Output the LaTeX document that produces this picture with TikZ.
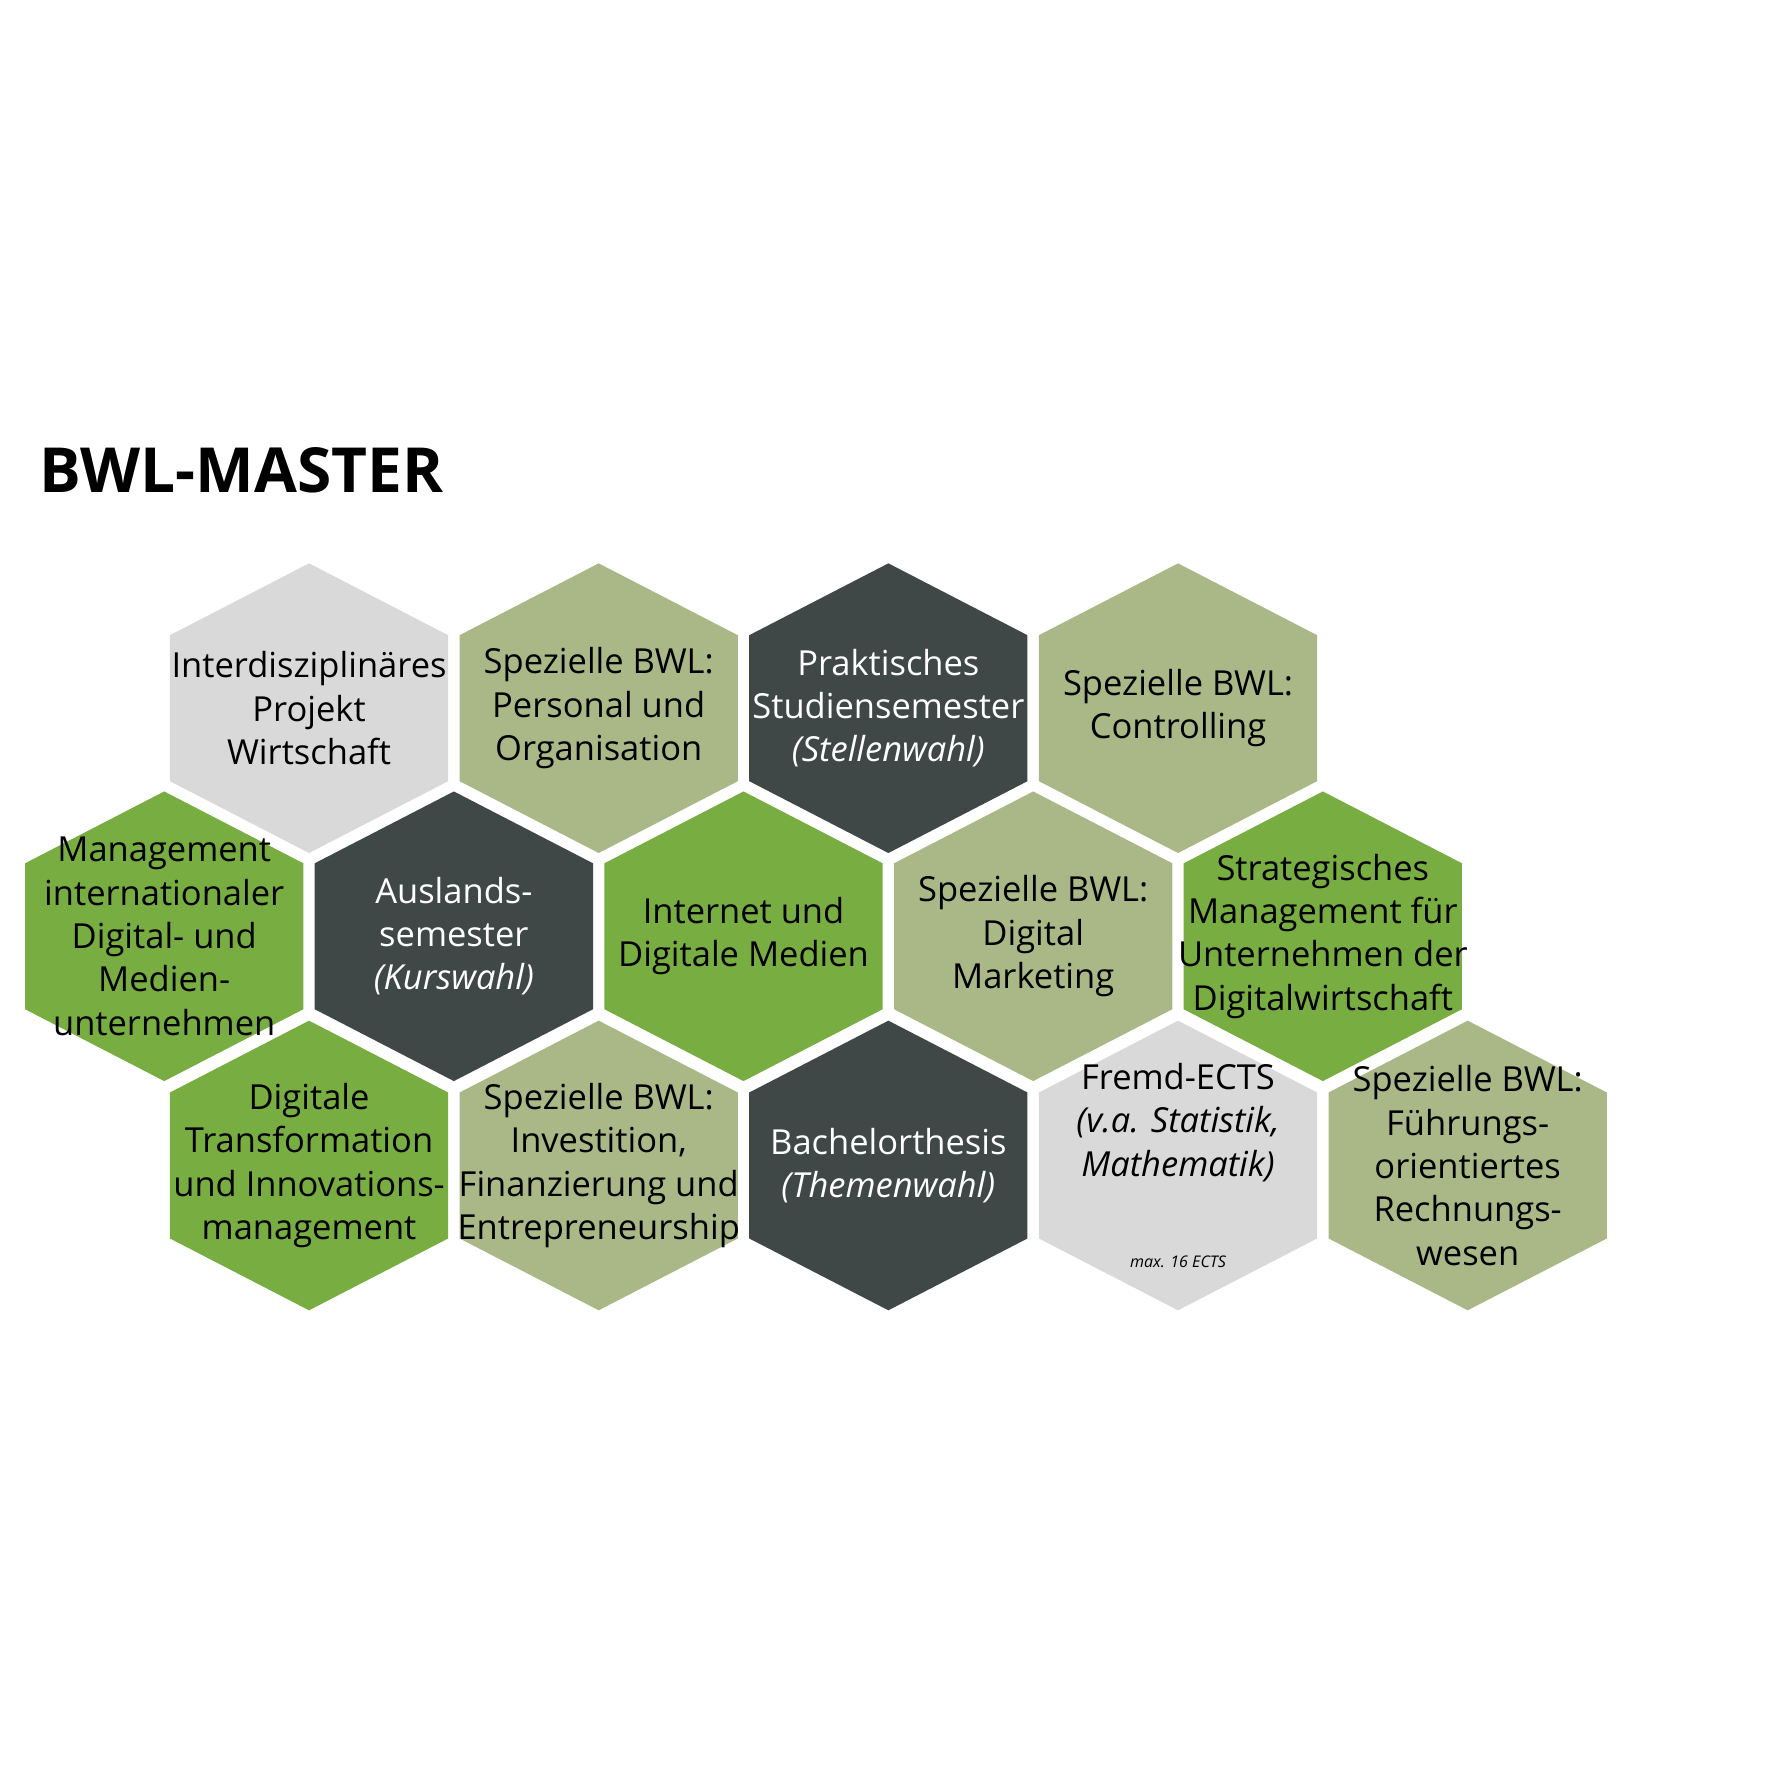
\documentclass[tikz,border=0pt]{standalone}
\usepackage{fontspec}
\setmainfont{Open Sans}
\definecolor{hexgrey}{HTML}{D9D9D9}
\definecolor{hexolive}{HTML}{AAB887}
\definecolor{hexdark}{HTML}{3F4846}
\definecolor{hexgreen}{HTML}{78AD42}
\tikzset{
  celltext/.style={align=center, font=\fontsize{8.6}{10.8}\selectfont, inner sep=0pt},
}
\newcommand{\hexcell}[5]{%
  \fill[#4] (#2,#3) ++(0,-127) -- ++(122,63) -- ++(0,128) -- ++(-122,63) -- ++(-122,-63) -- ++(0,-128) -- cycle;
  \node[celltext, text=#4 text] (#1) at (#2,#3) {#5};
}
\begin{document}
\begin{tikzpicture}[x=0.01cm, y=-0.01cm,
  hexgrey text/.code={}, hexolive text/.code={}]
\useasboundingbox (0,0) rectangle (1560,1560);
\colorlet{hexgrey text}{black}
\colorlet{hexolive text}{black}
\colorlet{hexgreen text}{black}
\colorlet{hexdark text}{white}

% title
\node[anchor=west, font=\bfseries\fontsize{15.5}{18}\selectfont] (title) at (22,412) {BWL-MASTER};

% top row
\hexcell{projekt}{271}{621}{hexgrey}{Interdisziplinäres\\Projekt\\Wirtschaft}
\hexcell{personal}{525}{621}{hexolive}{Spezielle BWL:\\Personal und\\Organisation}
\hexcell{praxis}{779}{621}{hexdark}{Praktisches\\Studiensemester\\\textit{(Stellenwahl)}}
\hexcell{controlling}{1033}{621}{hexolive}{Spezielle BWL:\\Controlling}

% middle row
\hexcell{management}{144}{821}{hexgreen}{Management\\internationaler\\Digital- und\\Medien-\\unternehmen}
\hexcell{ausland}{398}{821}{hexdark}{Auslands-\\semester\\\textit{(Kurswahl)}}
\hexcell{internet}{652}{821}{hexgreen}{Internet und\\Digitale Medien}
\hexcell{marketing}{906}{821}{hexolive}{Spezielle BWL:\\Digital\\Marketing}
\hexcell{strategie}{1160}{821}{hexgreen}{Strategisches\\Management für\\Unternehmen der\\Digitalwirtschaft}

% bottom row
\hexcell{transformation}{271}{1022}{hexgreen}{Digitale\\Transformation\\und Innovations-\\management}
\hexcell{investition}{525}{1022}{hexolive}{Spezielle BWL:\\Investition,\\Finanzierung und\\Entrepreneurship}
\hexcell{thesis}{779}{1022}{hexdark}{Bachelorthesis\\\textit{(Themenwahl)}}
\hexcell{fremd}{1033}{1022}{hexgrey}{Fremd-ECTS\\\textit{(v.a. Statistik,}\\\textit{Mathematik)}\\[12pt]{\fontsize{4}{5}\selectfont\itshape max. 16 ECTS}}
\hexcell{fuehrung}{1287}{1022}{hexolive}{Spezielle BWL:\\Führungs-\\orientiertes\\Rechnungs-\\wesen}
\end{tikzpicture}
\end{document}
